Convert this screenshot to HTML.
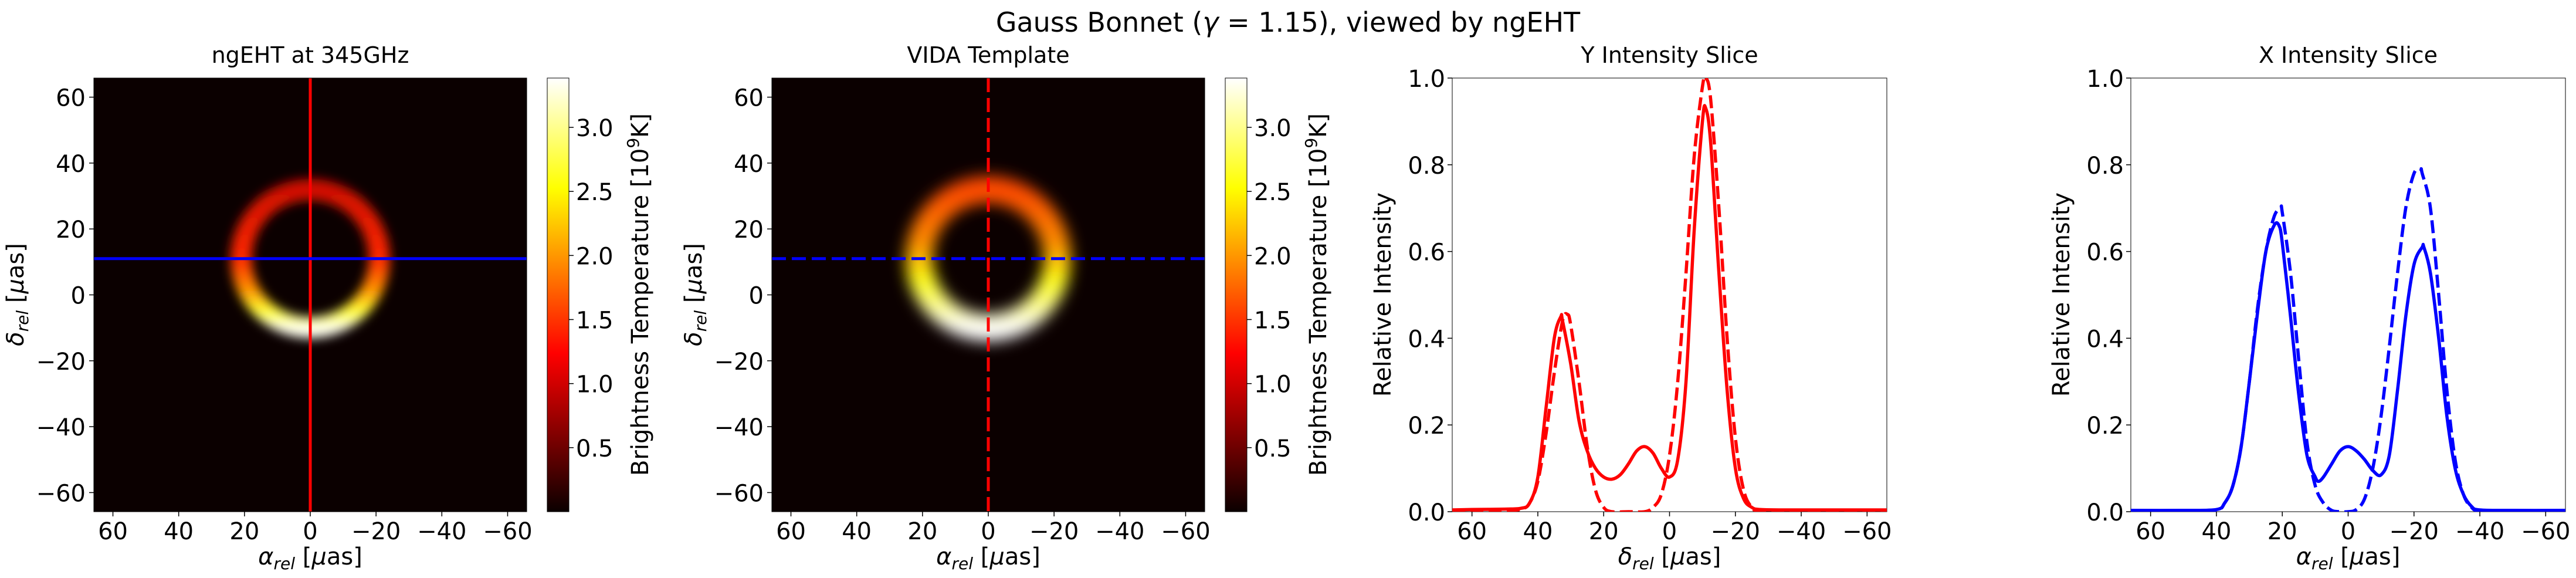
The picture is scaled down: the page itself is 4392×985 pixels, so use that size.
<!DOCTYPE html>
<html><head><meta charset="utf-8">
<style>
html,body{margin:0;padding:0;background:#fff;}
svg{display:block;font-family:"DejaVu Sans","Liberation Sans",sans-serif;}
</style></head>
<body>
<svg id="fig" width="4392" height="985" viewBox="0 0 4392 985" xmlns="http://www.w3.org/2000/svg">
<defs>
  <linearGradient id="hot" x1="0" y1="1" x2="0" y2="0">
    <stop offset="0" stop-color="#0b0000"/>
    <stop offset="0.365" stop-color="#ff0000"/>
    <stop offset="0.746" stop-color="#ffff00"/>
    <stop offset="1" stop-color="#ffffff"/>
  </linearGradient>
  <linearGradient id="ring1" x1="0" y1="0" x2="0" y2="1">
    <stop offset="0" stop-color="#d01000"/>
    <stop offset="0.5" stop-color="#ff2800"/>
    <stop offset="0.72" stop-color="#ff9000"/>
    <stop offset="0.88" stop-color="#ffff30"/>
    <stop offset="1" stop-color="#fffff0"/>
  </linearGradient>
  <linearGradient id="ring2" x1="0" y1="0" x2="0" y2="1">
    <stop offset="0" stop-color="#ff4800"/>
    <stop offset="0.4" stop-color="#ff9000"/>
    <stop offset="0.65" stop-color="#ffff10"/>
    <stop offset="1" stop-color="#ffffff"/>
  </linearGradient>
  <filter id="blur1" x="-50%" y="-50%" width="200%" height="200%"><feGaussianBlur stdDeviation="9"/></filter>
  <filter id="blur2" x="-50%" y="-50%" width="200%" height="200%"><feGaussianBlur stdDeviation="13"/></filter>
  <clipPath id="c1"><rect x="160" y="133" width="738" height="739"/></clipPath>
  <clipPath id="c2"><rect x="1316" y="133" width="738" height="739"/></clipPath>
  <clipPath id="c3"><rect x="2476" y="133" width="741" height="739"/></clipPath>
  <clipPath id="c4"><rect x="3633" y="133" width="741" height="739"/></clipPath>
</defs>
<text x="2196" y="54" font-size="46" text-anchor="middle">Gauss Bonnet (<tspan font-style="italic">γ</tspan> = 1.15), viewed by ngEHT</text>
<g id="layer"></g>
</svg>
<script>
// ---- data ----
const imgTicks = [60, 40, 20, 0, -20, -40, -60];
const cbTicks = [0.5, 1.0, 1.5, 2.0, 2.5, 3.0];
const cbMax = 3.385;
const sliceYTicks = [0.0, 0.2, 0.4, 0.6, 0.8, 1.0];
const ringCenter = [0, 11];
const ringRadius = 21;
const sliceLevel = 11;

const ySolidX = [66,60,50,45,42.5,40,37.5,35,33,32.5,30,27.5,25,22.5,20,17.5,15,12.5,10,7.5,5,2.5,0,-2.5,-5,-7.5,-10,-11,-12.5,-15,-17.5,-20,-22.5,-25,-27.5,-35,-50,-66];
const ySolidV = [0.004,0.005,0.006,0.008,0.02,0.08,0.24,0.40,0.45,0.44,0.34,0.21,0.14,0.10,0.08,0.075,0.085,0.11,0.14,0.15,0.135,0.10,0.08,0.12,0.30,0.65,0.90,0.93,0.85,0.55,0.28,0.10,0.03,0.01,0.005,0.004,0.004,0.004];
const yDashX = [66,50,45,42.5,40,37.5,35,32.5,31,30,27.5,25,22.5,20,17.5,12.5,7.5,5,2.5,0,-2.5,-5,-7.5,-10,-11,-12.5,-15,-17.5,-20,-22.5,-25,-27.5,-40,-66];
const yDashV = [0.002,0.003,0.006,0.02,0.07,0.18,0.32,0.44,0.455,0.43,0.30,0.15,0.05,0.01,0.0,0.0,0.0,0.01,0.04,0.13,0.30,0.55,0.82,0.98,1.0,0.95,0.70,0.40,0.17,0.05,0.01,0.003,0.002,0.002];
const xSolidX = [66,50,40,37.5,35,32.5,30,27.5,25,22.5,21,20,17.5,15,12.5,10,9,7.5,5,2.5,0,-2.5,-5,-7.5,-10,-12.5,-15,-17.5,-20,-22.5,-23,-25,-27.5,-30,-32.5,-35,-37.5,-40,-50,-66];
const xSolidV = [0.003,0.003,0.005,0.02,0.06,0.15,0.30,0.46,0.60,0.66,0.66,0.62,0.45,0.27,0.13,0.08,0.07,0.08,0.11,0.14,0.15,0.14,0.12,0.095,0.085,0.13,0.28,0.45,0.57,0.61,0.61,0.55,0.40,0.22,0.10,0.04,0.012,0.004,0.003,0.003];
const xDashX = [66,50,40,37.5,35,32.5,30,27.5,25,22.5,20.5,20,17.5,15,12.5,10,7.5,5,2.5,0,-2.5,-5,-7.5,-10,-12.5,-15,-17.5,-20,-22,-22.5,-25,-27.5,-30,-32.5,-35,-37.5,-40,-50,-66];
const xDashV = [0.002,0.002,0.004,0.02,0.06,0.15,0.30,0.47,0.60,0.68,0.70,0.69,0.55,0.35,0.16,0.06,0.02,0.003,0.0,0.0,0.005,0.03,0.10,0.22,0.38,0.55,0.70,0.78,0.79,0.78,0.70,0.50,0.28,0.12,0.04,0.01,0.002,0.002,0.002];

// ---- helpers ----
const NS = "http://www.w3.org/2000/svg";
const layer = document.getElementById('layer');
function el(tag, attrs, parent) {
  const e = document.createElementNS(NS, tag);
  for (const k in attrs) e.setAttribute(k, attrs[k]);
  (parent || layer).appendChild(e);
  return e;
}
const TOP = 133, BOT = 872, H = BOT - TOP;
const LIM = 65.8;
const FS = 40;
function imgX(left, w) { return v => left + (LIM - v) / (2 * LIM) * w; }
function imgY(v) { return TOP + (LIM - v) / (2 * LIM) * H; }

function imagePanel(left, title, idx, dashed) {
  const W = 738;
  const sx = imgX(left, W);
  const g = el('g', {});
  
  
  const bg = el('rect', {x: left, y: TOP, width: W, height: H, fill: '#0b0000'}, g);
  
  
  const cg = el('g', {'clip-path': 'url(#c' + idx + ')'}, g);
  const pxu = W / (2 * LIM);
  const ring = el('circle', {cx: sx(ringCenter[0]), cy: imgY(ringCenter[1]), r: ringRadius * pxu,
    fill: 'none', stroke: idx === 1 ? 'url(#ring1)' : 'url(#ring2)',
    'stroke-width': idx === 1 ? 36 : 46, filter: idx === 1 ? 'url(#blur1)' : 'url(#blur2)'}, cg);
  
  
  const dash = dashed ? {'stroke-dasharray': '24,10'} : {};
  const vl = el('line', Object.assign({x1: sx(0), x2: sx(0), y1: TOP, y2: BOT, stroke: '#ff0000', 'stroke-width': 5}, dash), cg);
  
  
  const hl = el('line', Object.assign({x1: left, x2: left + W, y1: imgY(sliceLevel), y2: imgY(sliceLevel), stroke: '#0000ff', 'stroke-width': 5}, dash), cg);
  
  
  el('rect', {x: left, y: TOP, width: W, height: H, fill: 'none', stroke: '#000', 'stroke-width': 1}, g);
  imgTicks.forEach(t => {
    const x = sx(t);
    el('line', {x1: x, x2: x, y1: BOT, y2: BOT + 8, stroke: '#000', 'stroke-width': 1.5}, g);
    const tx = el('text', {x: x, y: BOT + 47, 'font-size': FS, 'text-anchor': 'middle'}, g);
    tx.textContent = t < 0 ? '\u2212' + (-t) : String(t);
    
    
    const y = imgY(t);
    el('line', {x1: left - 8, x2: left, y1: y, y2: y, stroke: '#000', 'stroke-width': 1.5}, g);
    const ty = el('text', {x: left - 14, y: y + 15, 'font-size': FS, 'text-anchor': 'end'}, g);
    ty.textContent = t < 0 ? '\u2212' + (-t) : String(t);
    
    
  });
  const tt = el('text', {x: left + W / 2, y: 107, 'font-size': 38, 'text-anchor': 'middle'}, g);
  tt.textContent = title;
  
  
  const xl = el('text', {x: left + W / 2, y: 962, 'font-size': FS, 'text-anchor': 'middle'}, g);
  xl.innerHTML = '<tspan font-style="italic">α</tspan><tspan font-style="italic" font-size="28" dy="8">rel</tspan><tspan dy="-8"> [</tspan><tspan font-style="italic">μ</tspan><tspan>as]</tspan>';
  
  
  const yl = el('text', {x: 0, y: 0, 'font-size': FS, 'text-anchor': 'middle', transform: 'translate(' + (left - 120) + ',502) rotate(-90)'}, g);
  yl.innerHTML = '<tspan font-style="italic">δ</tspan><tspan font-style="italic" font-size="28" dy="8">rel</tspan><tspan dy="-8"> [</tspan><tspan font-style="italic">μ</tspan><tspan>as]</tspan>';
  
  
  const cbx = left + 773, cbw = 37;
  const cb = el('rect', {x: cbx, y: TOP, width: cbw, height: H, fill: 'url(#hot)', stroke: '#000', 'stroke-width': 1}, g);
  
  
  cbTicks.forEach(t => {
    const y = BOT - t / cbMax * H;
    el('line', {x1: cbx + cbw, x2: cbx + cbw + 8, y1: y, y2: y, stroke: '#000', 'stroke-width': 1.5}, g);
    const l = el('text', {x: cbx + cbw + 12, y: y + 15, 'font-size': FS}, g);
    l.textContent = t.toFixed(1);
    
    
  });
  const cl = el('text', {x: 0, y: 0, 'font-size': FS, 'text-anchor': 'middle', transform: 'translate(' + (cbx + 172) + ',502) rotate(-90)'}, g);
  cl.innerHTML = 'Brightness Temperature [10<tspan font-size="28" dy="-16">9</tspan><tspan dy="16">K]</tspan>';
  
  
}

function smoothPath(pts) {
  let d = 'M' + pts[0][0].toFixed(1) + ',' + pts[0][1].toFixed(1);
  for (let i = 0; i < pts.length - 1; i++) {
    const p0 = pts[i - 1] || pts[i], p1 = pts[i], p2 = pts[i + 1], p3 = pts[i + 2] || p2;
    const c1 = [p1[0] + (p2[0] - p0[0]) / 6, p1[1] + (p2[1] - p0[1]) / 6];
    const c2 = [p2[0] - (p3[0] - p1[0]) / 6, p2[1] - (p3[1] - p1[1]) / 6];
    d += 'C' + c1[0].toFixed(1) + ',' + c1[1].toFixed(1) + ' ' + c2[0].toFixed(1) + ',' + c2[1].toFixed(1) + ' ' + p2[0].toFixed(1) + ',' + p2[1].toFixed(1);
  }
  return d;
}

function slicePanel(left, idx, title, xlab, color, sX, sV, dX, dV) {
  const W = 741, L = 66;
  const sx = v => left + (L - v) / (2 * L) * W;
  const sy = v => BOT - v * H;
  const g = el('g', {});
  
  
  el('rect', {x: left, y: TOP, width: W, height: H, fill: '#fff', stroke: '#000', 'stroke-width': 1}, g);
  const cg = el('g', {'clip-path': 'url(#c' + idx + ')'}, g);
  const s = el('path', {d: smoothPath(sX.map((x, i) => [sx(x), sy(sV[i])])), fill: 'none', stroke: color, 'stroke-width': 5.5, 'stroke-linejoin': 'round'}, cg);
  
  
  const d = el('path', {d: smoothPath(dX.map((x, i) => [sx(x), sy(dV[i])])), fill: 'none', stroke: color, 'stroke-width': 5.5, 'stroke-dasharray': '22,9'}, cg);
  
  
  imgTicks.forEach(t => {
    const x = sx(t);
    el('line', {x1: x, x2: x, y1: BOT, y2: BOT + 8, stroke: '#000', 'stroke-width': 1.5}, g);
    const tx = el('text', {x: x, y: BOT + 47, 'font-size': FS, 'text-anchor': 'middle'}, g);
    tx.textContent = t < 0 ? '\u2212' + (-t) : String(t);
    
    
  });
  sliceYTicks.forEach(t => {
    const y = sy(t);
    el('line', {x1: left - 8, x2: left, y1: y, y2: y, stroke: '#000', 'stroke-width': 1.5}, g);
    const ty = el('text', {x: left - 12, y: y + 15, 'font-size': FS, 'text-anchor': 'end'}, g);
    ty.textContent = t.toFixed(1);
    
    
  });
  const tt = el('text', {x: left + W / 2, y: 107, 'font-size': 38, 'text-anchor': 'middle'}, g);
  tt.textContent = title;
  
  
  const xl = el('text', {x: left + W / 2, y: 962, 'font-size': FS, 'text-anchor': 'middle'}, g);
  xl.innerHTML = '<tspan font-style="italic">' + xlab + '</tspan><tspan font-style="italic" font-size="28" dy="8">rel</tspan><tspan dy="-8"> [</tspan><tspan font-style="italic">μ</tspan><tspan>as]</tspan>';
  
  
  const yl = el('text', {x: 0, y: 0, 'font-size': FS, 'text-anchor': 'middle', transform: 'translate(' + (left - 105) + ',502) rotate(-90)'}, g);
  yl.textContent = 'Relative Intensity';
  
  
}

imagePanel(160, 'ngEHT at 345GHz', 1, false);
imagePanel(1316, 'VIDA Template', 2, true);
slicePanel(2476, 3, 'Y Intensity Slice', 'δ', '#ff0000', ySolidX, ySolidV, yDashX, yDashV);
slicePanel(3633, 4, 'X Intensity Slice', 'α', '#0000ff', xSolidX, xSolidV, xDashX, xDashV);
</script>
</body></html>
